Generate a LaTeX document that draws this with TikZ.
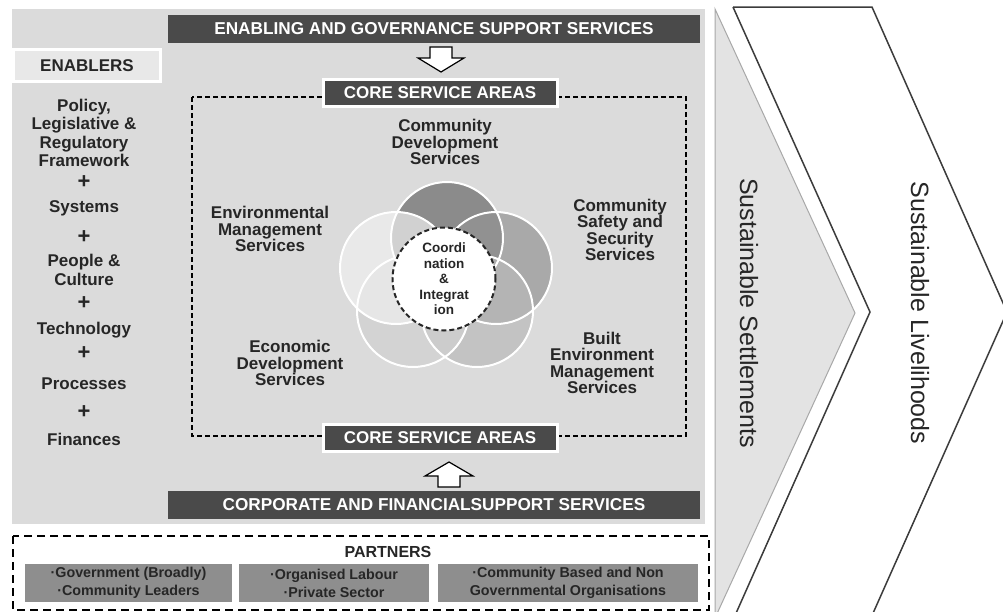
\documentclass[tikz,border=0pt]{standalone}
\usepackage{fontspec}
\setmainfont{Liberation Sans}
\definecolor{panelgray}{HTML}{DBDBDB}
\definecolor{bardark}{HTML}{4A4A4A}
\definecolor{txtdark}{HTML}{262626}
\definecolor{enabfill}{HTML}{E8E8E8}
\definecolor{partfill}{HTML}{8E8E8E}
\definecolor{trifill}{HTML}{E3E3E3}
\definecolor{triline}{HTML}{A8A8A8}
\definecolor{chevline}{HTML}{3C3C3C}
\definecolor{cA}{HTML}{6A6A6A}
\definecolor{cB}{HTML}{949494}
\definecolor{cC}{HTML}{BABABA}
\definecolor{cD}{HTML}{D1D1D1}
\definecolor{cE}{HTML}{EFEFEF}
\tikzset{
  lbl/.style={align=center, text=txtdark, font=\fontsize{17}{16.5}\selectfont\bfseries, inner sep=0pt},
  enab/.style={align=center, text=txtdark, font=\fontsize{17}{18.3}\selectfont\bfseries, inner sep=0pt},
  plus/.style={text=txtdark, font=\fontsize{22}{22}\selectfont\bfseries, inner sep=0pt},
  barbox/.style={fill=bardark, text=white, font=\fontsize{17.2}{18}\selectfont\bfseries, minimum width=532pt, minimum height=28pt, inner sep=0pt},
  corebox/.style={fill=bardark, draw=white, line width=3pt, text=white, font=\fontsize{17}{18}\selectfont\bfseries, minimum width=234pt, minimum height=27pt, inner sep=0pt},
  partbox/.style={fill=partfill, text=txtdark, align=center, font=\fontsize{14.3}{18}\selectfont\bfseries, minimum height=38pt, inner sep=0pt},
  blockarrow/.style={fill=white, draw=black, line width=1.2pt, line join=miter},
  vtext/.style={rotate=-90, text=txtdark, font=\fontsize{25}{28}\selectfont, inner sep=0pt},
  petal/.style={draw=white, line width=2pt},
}
\begin{document}
\begin{tikzpicture}[x=1pt,y=-1pt]
\useasboundingbox (0,0) rectangle (1003,611);
\fill[white] (0,0) rectangle (1003,611);

% right side: triangle and chevron
\draw[fill=trifill, draw=triline, line width=1pt] (715,9) -- (855,313) -- (715,618) -- cycle;
\draw[chevline, line width=1.5pt, line join=miter] (733,7) -- (872,7) -- (1007,312) -- (870,620);
\draw[chevline, line width=1.5pt, line join=miter] (733,7) -- (870,312) -- (733,620);
\node[vtext] (settle) at (749,313) {Sustainable Settlements};
\node[vtext] (liveli) at (920,313) {Sustainable Livelihoods};

% main panel
\fill[panelgray] (12,9) rectangle (705,524);

\node[barbox] (topbar) at (434,29) {ENABLING AND GOVERNANCE SUPPORT SERVICES};
\node[barbox] (botbar) at (434,505) {CORPORATE AND FINANCIALSUPPORT SERVICES};

\node[fill=enabfill, draw=white, line width=3pt, minimum width=147pt, minimum height=32pt, inner sep=0pt,
      text=txtdark, font=\fontsize{17}{18}\selectfont\bfseries] (enablers) at (87,65.5) {ENABLERS};

% dashed core area
\draw[black, line width=1.4pt, dash pattern=on 5pt off 3pt] (192,97) rectangle (686,436);

\node[corebox] (coretop) at (440,93) {CORE SERVICE AREAS};
\node[corebox] (corebot) at (440,438) {CORE SERVICE AREAS};

% block arrows
\draw[blockarrow] (430,47) -- (452,47) -- (452,58) -- (464,58) -- (441,72) -- (418,58) -- (430,58) -- cycle;
\draw[blockarrow] (449,462) -- (473,476) -- (460,476) -- (460,487) -- (438,487) -- (438,476) -- (425,476) -- cycle;

% enablers list
\node[enab] (e1) at (84,133) {Policy,\\Legislative \&\\Regulatory\\Framework};
\node[plus] (p1) at (84,182) {+};
\node[enab] (e2) at (84,208) {Systems};
\node[plus] (p2) at (84,237) {+};
\node[enab] (e3) at (84,270) {People \&\\Culture};
\node[plus] (p3) at (84,303) {+};
\node[enab] (e4) at (84,330) {Technology};
\node[plus] (p4) at (84,353) {+};
\node[enab] (e5) at (84,384) {Processes};
\node[plus] (p5) at (84,412) {+};
\node[enab] (e6) at (84,439) {Finances};

% circles
\fill[cA, opacity=0.7] (447,238) circle (56pt);
\fill[cB, opacity=0.7] (496,268) circle (56pt);
\fill[cC, opacity=0.7] (477,311) circle (56pt);
\fill[cD, opacity=0.7] (413,311) circle (56pt);
\fill[cE, opacity=0.7] (396,268) circle (56pt);
\draw[petal] (447,238) circle (56pt);
\draw[petal] (496,268) circle (56pt);
\draw[petal] (477,311) circle (56pt);
\draw[petal] (413,311) circle (56pt);
\draw[petal] (396,268) circle (56pt);
\node[circle, fill=white, draw=black!85, line width=2pt, dash pattern=on 5pt off 3pt, minimum size=103pt, inner sep=0pt,
      align=center, text=txtdark, font=\fontsize{13.5}{15.5}\selectfont\bfseries] (coord) at (444,279)
      {Coordi\\nation\\\&\\Integrat\\ion};

% service labels
\node[lbl] (cds) at (445,142) {Community\\Development\\Services};
\node[lbl] (ems) at (270,229) {Environmental\\Management\\Services};
\node[lbl] (css) at (620,230) {Community\\Safety and\\Security\\Services};
\node[lbl] (eds) at (290,363) {Economic\\Development\\Services};
\node[lbl] (bes) at (602,363) {Built\\Environment\\Management\\Services};

% partners
\draw[black, line width=2pt, dash pattern=on 8pt off 5pt] (13,536) rectangle (709,610);
\node[text=txtdark, font=\fontsize{16}{18}\selectfont\bfseries, inner sep=0pt] (partners) at (388,552) {PARTNERS};
\node[partbox, minimum width=207pt] (pb1) at (128.5,583) {·Government (Broadly)\\·Community Leaders};
\node[partbox, minimum width=190pt] (pb2) at (334,583) {·Organised Labour\\·Private Sector};
\node[partbox, minimum width=260pt] (pb3) at (568,583) {·Community Based and Non\\Governmental Organisations};
\end{tikzpicture}
\end{document}
